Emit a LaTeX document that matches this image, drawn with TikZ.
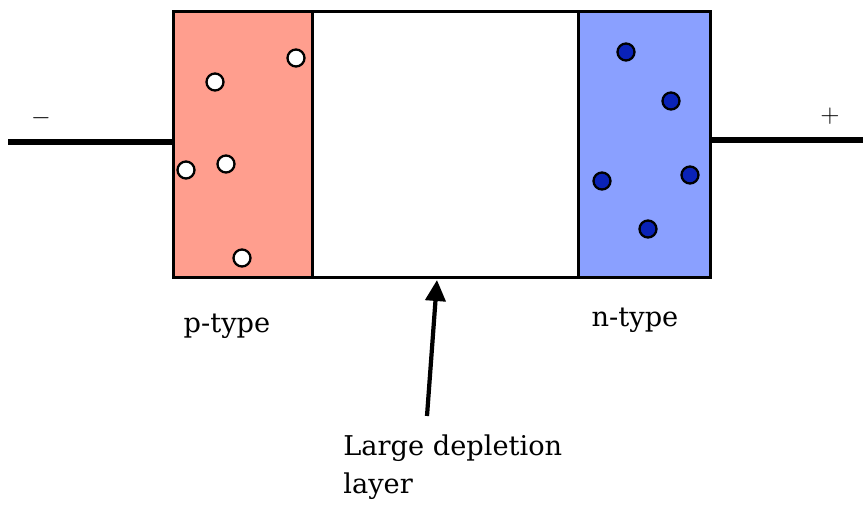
\documentclass[tikz,border=0pt]{standalone}
\usepackage{fontspec}
\setmainfont{DejaVu Serif}
\usetikzlibrary{arrows.meta,positioning,calc}
\definecolor{cPType}{HTML}{FF9E8E}
\definecolor{cNType}{HTML}{8AA0FF}
\definecolor{cElec}{HTML}{0A22B8}
\definecolor{cInk}{HTML}{000000}
\tikzset{
  region/.style={draw=cInk,fill=#1,line width=1.6pt,anchor=north west,inner sep=0pt,minimum height=5.32cm},
  region/.default=white,
  hole/.style={circle,draw=cInk,fill=white,line width=1.3pt,minimum size=0.34cm,inner sep=0pt},
  elec/.style={hole,fill=cElec},
  wire/.style={line width=3pt,color=cInk},
  arr/.style={-{Triangle[length=0.42cm,width=0.4cm]},line width=2.4pt,color=cInk},
  lbl/.style={font=\fontsize{15.5}{19}\selectfont,text=cInk,inner sep=0pt},
}

\begin{document}
\begin{tikzpicture}[x=0.02cm,y=-0.02cm]
    \useasboundingbox (0,0) rectangle (863,506);
    % junction regions
    \node[region=cPType,minimum width=2.78cm] (p) at (172,10) {};
    \node[region,minimum width=5.32cm]        (d) at (311,10) {};
    \node[region=cNType,minimum width=2.64cm] (n) at (577,10) {};
    % leads
    \coordinate (lend) at (8,142);
    \coordinate (rend) at (863,140);
    \draw[wire] (lend) -- (lend -| p.west);
    \draw[wire] (rend -| n.east) -- (rend);
    \node[lbl] (minus) at (41,118) {$-$};
    \node[lbl] (plus)  at (830,116) {$+$};
    % holes
    \node[hole] (h1) at (296,58)  {};
    \node[hole] (h2) at (215,82)  {};
    \node[hole] (h3) at (186,170) {};
    \node[hole] (h4) at (226,164) {};
    \node[hole] (h5) at (242,258) {};
    % electrons
    \node[elec] (e1) at (626,52)  {};
    \node[elec] (e2) at (671,101) {};
    \node[elec] (e3) at (602,181) {};
    \node[elec] (e4) at (690,175) {};
    \node[elec] (e5) at (648,229) {};
    % labels
    \node[lbl] (ptype) at (227,326) {p-type};
    \node[lbl] (ntype) at (635,320) {n-type};
    \node[lbl,anchor=north west,align=left] (depl) at (343,434) {Large depletion\\[3pt]layer};
    \coordinate (atail) at (427,416);
    \coordinate (atip)  at (437,280);
    \draw[arr] (atail) -- (atip);
  \end{tikzpicture}
\end{document}
